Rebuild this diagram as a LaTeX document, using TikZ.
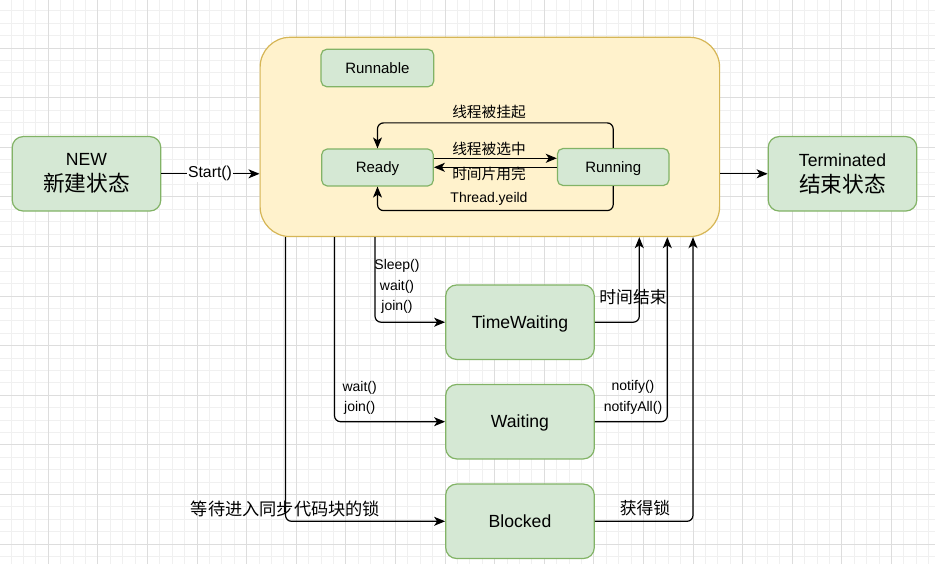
\documentclass[tikz,border=0pt]{standalone}
\usepackage{fontspec}
\setmainfont{Liberation Sans}
\newfontfamily\cjk{Noto Sans CJK SC}
\usetikzlibrary{arrows.meta,calc}
\definecolor{gfill}{HTML}{D5E8D4}
\definecolor{gline}{HTML}{82B366}
\definecolor{yfill}{HTML}{FFF2CC}
\definecolor{yline}{HTML}{D6B656}
\definecolor{gridminor}{HTML}{F0F0F0}
\definecolor{gridmajor}{HTML}{DDDDDD}
\newcommand\fs[2]{\fontsize{#1}{#2}\selectfont}
\begin{document}
\begin{tikzpicture}[x=1pt,y=-1pt,
  bigstate/.style={draw=gline, fill=gfill, line width=1.2pt, rounded corners=11pt,
    inner sep=0pt, align=center, minimum width=148.6pt, minimum height=74.5pt,
    font=\fs{17.6}{26}},
  bigone/.style={bigstate, text height=15.9pt, text depth=3.7pt},
  smallstate/.style={draw=gline, fill=gfill, line width=1.2pt, rounded corners=5.6pt,
    inner sep=0pt, align=center, minimum width=111.6pt, minimum height=37pt,
    font=\fs{15}{18}, text height=13.6pt, text depth=3.2pt},
  container/.style={draw=yline, fill=yfill, line width=1.2pt, rounded corners=30pt,
    inner sep=0pt},
  arr/.style={draw=black, line width=1.2pt, rounded corners=6pt,
    -{Stealth[length=11pt,width=9pt,inset=3pt]}},
  lbl/.style={inner sep=0pt, align=center, font=\fs{14}{20.5}},
  cjklbl/.style={inner sep=0pt, font=\cjk\fs{14.7}{18}},
  cjkbig/.style={inner sep=0pt, font=\cjk\fs{16.8}{20}},
]
\useasboundingbox (0,0) rectangle (935,564);
\fill[white] (0,0) rectangle (935,564);
% grid
\foreach \i in {0,...,76} {
  \draw[gridminor, line width=0.9pt] ({-1.3+\i*12.4},0) -- ({-1.3+\i*12.4},564);
}
\foreach \i in {0,...,46} {
  \draw[gridminor, line width=0.9pt] (0,{-1.6+\i*12.4}) -- (935,{-1.6+\i*12.4});
}
\foreach \i in {0,...,19} {
  \draw[gridmajor, line width=0.9pt] ({-1.3+\i*49.6},0) -- ({-1.3+\i*49.6},564);
}
\foreach \i in {0,...,12} {
  \draw[gridmajor, line width=0.9pt] (0,{-1.6+\i*49.6}) -- (935,{-1.6+\i*49.6});
}

% container
\node[container, minimum width=459.5pt, minimum height=199.3pt, anchor=north west] (run) at (259.5,36.7) {};
\node[smallstate, minimum width=112.7pt, minimum height=37.4pt] (rbl) at (377.4,68) {Runnable};
\node[smallstate] (ready) at (377.5,167.5) {Ready};
\node[smallstate] (running) at (613.2,167) {Running};

% outer states
\node[bigstate] (new) at (86.5,173.8) {NEW\\{\cjk\fs{21.7}{26}新建状态}};
\node[bigstate] (term) at (842.5,173.8) {Terminated\\{\cjk\fs{21.7}{26}结束状态}};
\node[bigone] (tw) at (520,322.2) {TimeWaiting};
\node[bigone] (wt) at (520,421.7) {Waiting};
\node[bigone] (bl) at (520,521.3) {Blocked};

% helper coordinates
\coordinate (yA) at (0,158.3);
\coordinate (yB) at (0,167.3);
\coordinate (c1) at (375,0);
\coordinate (c2) at (334.5,0);
\coordinate (c3) at (285.5,0);
\coordinate (c4) at (639.3,0);
\coordinate (c5) at (667.3,0);
\coordinate (c6) at (693,0);

% connectors
\draw[arr] (new.east) -- (new.east -| run.west);
\node[lbl, fill=white, inner sep=1pt, font=\fs{15.8}{18}] (lstart) at (210,173.8) {Start()};
\draw[arr] (run.east |- term.west) -- (term.west);

\draw[arr] (ready.east |- yA) -- (running.west |- yA);
\draw[arr] (running.west |- yB) -- (ready.east |- yB);
\draw[arr] (running.north) -- ++(0,-25) -| (ready.north);
\draw[arr] (running.south) -- ++(0,24.5) -| (ready.south);

\draw[arr] (run.south -| c1) |- (tw.west);
\draw[arr] (run.south -| c2) |- (wt.west);
\draw[arr] (run.south -| c3) |- (bl.west);
\draw[arr] (tw.east) -| (run.south -| c4);
\draw[arr] (wt.east) -| (run.south -| c5);
\draw[arr] (bl.east) -| (run.south -| c6);

% labels
\node[cjklbl] (l1) at (489,111.5) {线程被挂起};
\node[cjklbl] (l2) at (489,148.5) {线程被选中};
\node[cjklbl] (l3) at (489,174) {时间片用完};
\node[lbl] (l4) at (489,199) {Thread.yeild};
\node[lbl] (l5) at (397,286.5) {Sleep()\\wait()\\join()};
\node[lbl] (l6) at (359.7,398) {wait()\\join()};
\node[lbl] (l7) at (633,397.3) {notify()\\notifyAll()};
\node[cjkbig] (l8) at (633,297) {时间结束};
\node[cjkbig, font=\cjk\fs{17.2}{20}] (l9) at (285.4,508.7) {等待进入同步代码块的锁};
\node[cjkbig] (l10) at (645,508) {获得锁};
\end{tikzpicture}
\end{document}
